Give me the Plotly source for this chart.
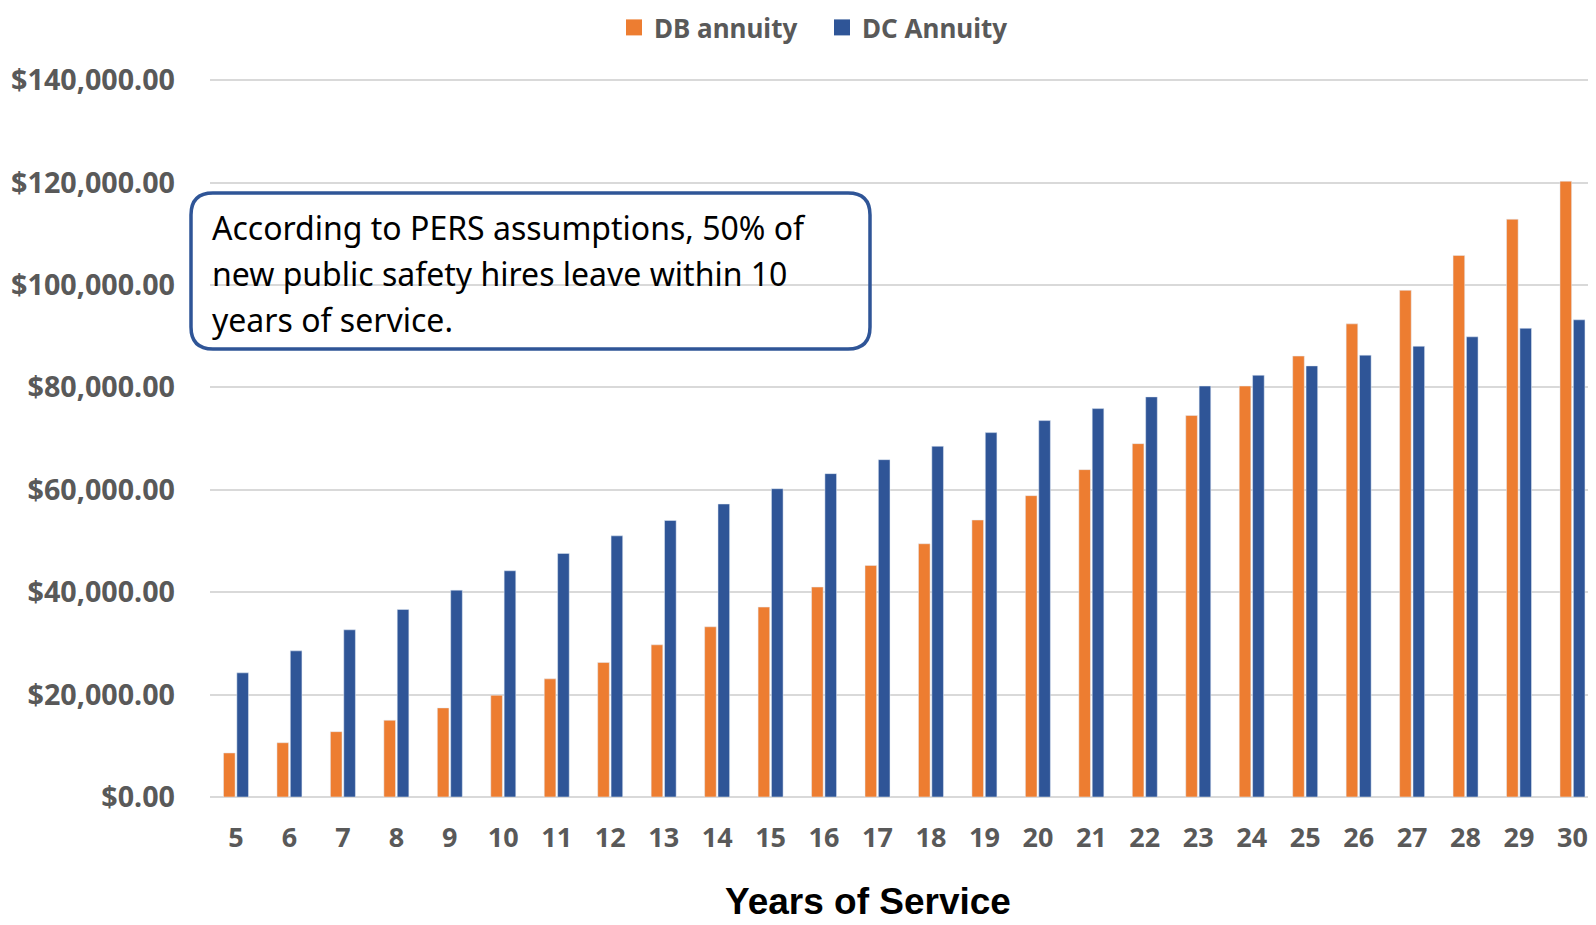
import plotly.graph_objects as go

# Years of service on the x axis
years = ["5", "6", "7", "8", "9", "10", "11", "12", "13", "14", "15", "16", "17",
         "18", "19", "20", "21", "22", "23", "24", "25", "26", "27", "28", "29", "30"]

# Annuity amounts
db_annuity = [8600, 10600, 12760, 14980, 17400, 19870, 23070, 26260, 29720, 33240,
              37090, 41000, 45220, 49460, 54090, 58850, 63930, 69010, 74500, 80260,
              86110, 92400, 98950, 105760, 112840, 120260]
dc_annuity = [24250, 28540, 32650, 36620, 40400, 44180, 47570, 51000, 54000, 57220,
              60210, 63150, 65880, 68490, 71160, 73510, 75850, 78140, 80260, 82360,
              84190, 86290, 88030, 89870, 91530, 93190]

note_lines = [
    "According to PERS assumptions, 50% of",
    "new public safety hires leave within 10",
    "years of service.",
]

# the page puts the figure 8px in from the top-left corner
OFF = 8
W, H = 1596 - OFF, 925 - OFF
L, R, T, B = 210 - OFF, 0, 75 - OFF, 925 - 797
PW, PH = W - L - R, H - T - B

ORANGE = "#ED7D31"
BLUE = "#2F5597"
GREY = "#595959"
GRID = "#D9D9D9"


def px_x(x):
    """page pixel -> paper x"""
    return (x - OFF - L) / PW


def px_y(y):
    """page pixel -> paper y"""
    return (H - B - (y - OFF)) / PH


def rounded_box(x0, y0, x1, y1, r):
    """SVG path (paper coords) for a rounded rectangle given in page pixels."""
    pts = [
        ("M", [(x0 + r, y0)]),
        ("L", [(x1 - r, y0)]),
        ("Q", [(x1, y0), (x1, y0 + r)]),
        ("L", [(x1, y1 - r)]),
        ("Q", [(x1, y1), (x1 - r, y1)]),
        ("L", [(x0 + r, y1)]),
        ("Q", [(x0, y1), (x0, y1 - r)]),
        ("L", [(x0, y0 + r)]),
        ("Q", [(x0, y0), (x0 + r, y0)]),
    ]
    path = ""
    for cmd, coords in pts:
        path += cmd + " " + " ".join(f"{px_x(a):.5f},{px_y(b):.5f}" for a, b in coords) + " "
    return path + "Z"


fig = go.Figure()
fig.add_trace(go.Bar(x=years, y=db_annuity, name="DB annuity", marker_color=ORANGE,
                     showlegend=False))
fig.add_trace(go.Bar(x=years, y=dc_annuity, name="DC Annuity", marker_color=BLUE,
                     showlegend=False))
# legend entries with bigger square swatches
for name, col in [("DB annuity", ORANGE), ("DC Annuity", BLUE)]:
    fig.add_trace(go.Scatter(x=[None], y=[None], mode="markers", name=name,
                             marker=dict(symbol="square", size=18, color=col)))

fig.update_layout(
    width=W,
    height=H,
    margin=dict(l=L, r=R, t=T, b=B, autoexpand=False),
    plot_bgcolor="white",
    paper_bgcolor="white",
    font=dict(family="Noto Sans", color=GREY),
    barmode="group",
    bargap=0.5,
    bargroupgap=0.13,
    showlegend=True,
    legend=dict(
        orientation="h",
        x=px_x(614),
        xanchor="left",
        y=px_y(OFF - 4),
        yanchor="top",
        font=dict(size=26, color=GREY, family="Noto Sans", weight="bold"),
        itemwidth=30,
        entrywidth=163,
        traceorder="normal",
    ),
)

fig.update_xaxes(
    type="category",
    range=[-0.486, 25.44],
    showgrid=False,
    showline=False,
    ticks="",
    ticklabelstandoff=22,
    tickfont=dict(size=27, color=GREY, family="Noto Sans", weight="bold"),
)
fig.update_yaxes(
    range=[0, 141000],
    dtick=20000,
    tick0=0,
    tickformat="$,.2f",
    showgrid=True,
    gridcolor=GRID,
    gridwidth=2,
    zeroline=True,
    zerolinecolor=GRID,
    zerolinewidth=2,
    ticklabelstandoff=34,
    tickfont=dict(size=28.7, color=GREY, family="Noto Sans", weight="bold"),
)

# note box
fig.add_shape(
    type="path",
    xref="paper",
    yref="paper",
    path=rounded_box(191, 193, 870, 349, 22),
    line=dict(color=BLUE, width=3.5),
    fillcolor="rgba(0,0,0,0)",
    layer="above",
)
for i, line in enumerate(note_lines):
    fig.add_annotation(
        x=px_x(210),
        y=px_y(227 + 46 * i),
        xref="paper",
        yref="paper",
        text=line,
        showarrow=False,
        xanchor="left",
        yanchor="middle",
        font=dict(size=32, color="black", family="Noto Sans"),
    )

# x axis title, kept inside the bottom edge
fig.add_annotation(
    x=px_x(868),
    y=px_y(924),
    xref="paper",
    yref="paper",
    text="<b>Years of Service</b>",
    showarrow=False,
    xanchor="center",
    yanchor="bottom",
    font=dict(size=37, color="black", family="Liberation Sans"),
)

fig.write_html("out.html")
